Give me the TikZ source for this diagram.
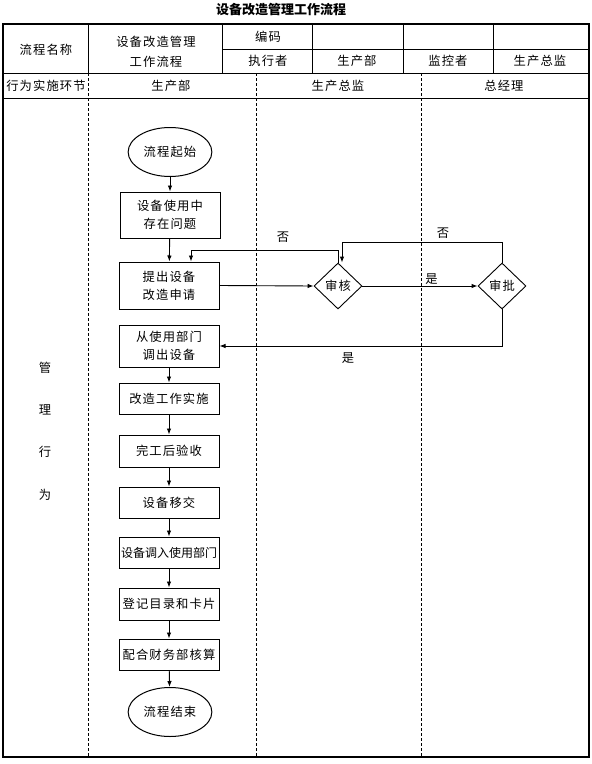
\documentclass[tikz,border=0pt]{standalone}
\usepackage{fontspec}
\setmainfont{Noto Sans CJK SC}
\newfontfamily\cjkwide[LetterSpace=9]{Noto Sans CJK SC}
\usetikzlibrary{shapes.geometric,arrows.meta}
\begin{document}
\begin{tikzpicture}[x=1pt,y=-1pt, font=\fontsize{12.3}{18}\selectfont\cjkwide,
 box/.style={draw, line width=1pt, minimum width=100pt, align=center, inner sep=1.5pt},
 term/.style={draw, ellipse, line width=1pt, minimum width=82pt, minimum height=49pt},
 dec/.style={draw, diamond, line width=0.9pt, minimum width=48pt, minimum height=46pt, inner sep=0pt},
 arr/.style={-{Latex[length=6pt,width=4.5pt]}, line width=0.9pt},
 lane/.style={densely dashed, line width=0.6pt},
 grid/.style={line width=0.8pt},
 lbl/.style={inner sep=1pt}]
\useasboundingbox (0,0) rectangle (592,764);
% title
\node[font=\fontsize{13}{15}\selectfont\bfseries] (title) at (281,10) {设备改造管理工作流程};
% table
\draw[line width=1.2pt] (3,24) rectangle (589,757);
\draw[grid] (3,73) -- (589,73);
\draw[grid] (3,98) -- (589,98);
\draw[grid] (222,49) -- (589,49);
\foreach \x in {88,222,312,403,493} \draw[grid] (\x,24) -- (\x,73);
\foreach \x in {88,256,421} \draw[lane] (\x,73) -- (\x,757);
% header texts
\node (h1) at (46,50) {流程名称};
\node[align=center] (h2) at (156,52) {设备改造管理\\[2pt]工作流程};
\node (h3) at (268,37) {编码};
\node (h4) at (268,61) {执行者};
\node (h5) at (357,61) {生产部};
\node (h6) at (448,61) {监控者};
\node (h7) at (540,61) {生产总监};
\node (r1) at (46,86) {行为实施环节};
\node (r2) at (171,86) {生产部};
\node (r3) at (338,86) {生产总监};
\node (r4) at (504,86) {总经理};
% vertical label
\node (v1) at (45,368) {管};
\node (v2) at (45,410) {理};
\node (v3) at (45,452) {行};
\node (v4) at (45,495) {为};
% flow
\node[term] (start) at (170,152) {流程起始};
\node[box, minimum height=46pt] (p1) at (170,215) {设备使用中\\存在问题};
\node[box, minimum height=47pt] (p2) at (169,285.5) {提出设备\\改造申请};
\node[box, minimum height=42pt] (p3) at (169,346) {从使用部门\\调出设备};
\node[box, minimum height=31pt] (p4) at (169,398.5) {改造工作实施};
\node[box, minimum height=32pt] (p5) at (169,451) {完工后验收};
\node[box, minimum height=31pt] (p6) at (169,502.5) {设备移交};
\node[box, minimum height=31pt, font=\fontsize{12}{18}\selectfont\rmfamily] (p7) at (169,552.5) {设备调入使用部门};
\node[box, minimum height=32pt] (p8) at (169,604) {登记目录和卡片};
\node[box, minimum height=31pt] (p9) at (169,654.5) {配合财务部核算};
\node[term] (end) at (170,712) {流程结束};
\node[dec] (sh) at (338,286) {审核};
\node[dec] (sp) at (502,286) {审批};
% connectors
\draw[arr] (start) -- (p1);
\draw[arr] (p1) -- (p2);
\draw[arr] (p2.east) -- (sh.west);
\draw[arr] (sh.east) -- node[lbl, above, pos=0.6] {是} (sp.west);
\draw[arr] (sp.north) -- ++(0,-20) -| ([xshift=4pt]sh.north);
\draw[arr] (sh.north) -- ++(0,-12) -| ([xshift=22pt]p2.north);
\draw[arr] (sp.south) |- (p3.east);
\node[lbl] (no1) at (283,237) {否};
\node[lbl] (no2) at (443,233) {否};
\node[lbl] (yes2) at (348,358) {是};
\draw[arr] (p3) -- (p4);
\draw[arr] (p4) -- (p5);
\draw[arr] (p5) -- (p6);
\draw[arr] (p6) -- (p7);
\draw[arr] (p7) -- (p8);
\draw[arr] (p8) -- (p9);
\draw[arr] (p9) -- (end);
\end{tikzpicture}
\end{document}
